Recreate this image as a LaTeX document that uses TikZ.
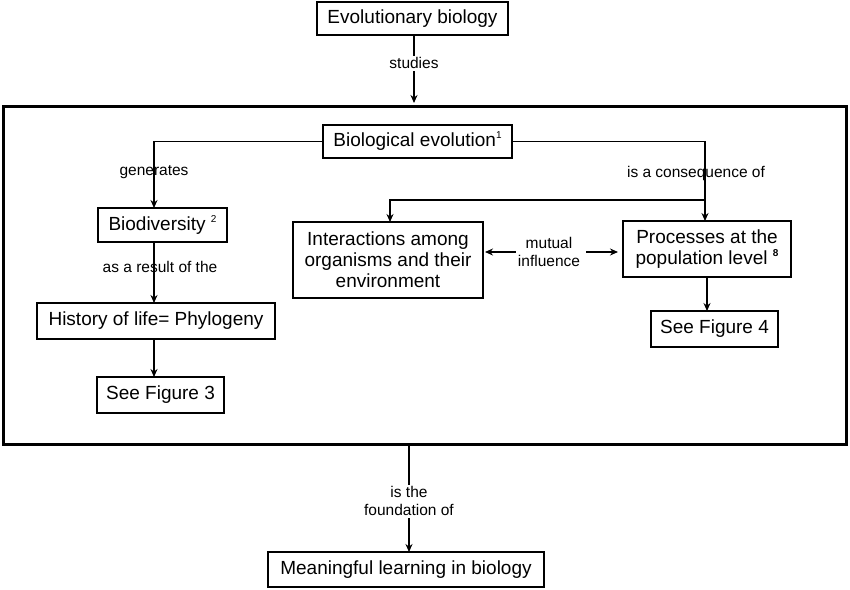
\documentclass[tikz,border=0pt]{standalone}
\usepackage{fontspec}
\setmainfont{Liberation Sans}
\usetikzlibrary{arrows.meta}
\newcommand{\supr}[1]{\raisebox{0.42em}{\fontsize{10}{10}\selectfont #1}}
\begin{document}
\begin{tikzpicture}[x=1pt,y=-1pt,
  box/.style={draw, line width=1.6pt, inner sep=0pt, outer sep=0pt,
    font=\fontsize{19}{21}\selectfont, align=center},
  lbl/.style={font=\fontsize{15.5}{18}\selectfont, inner sep=1pt, align=center},
  arr/.style={line width=1.2pt, -{Stealth[length=8pt,width=7pt]}},
  conn/.style={line width=1.2pt}]
\useasboundingbox (0,0) rectangle (850,589);
\fill[white] (0,0) rectangle (850,589);

% frame
\node[draw, line width=3pt, minimum width=843pt, minimum height=338pt,
  inner sep=0pt, outer sep=0pt] (frame) at (425,275) {};

% boxes
\node[box, minimum width=191pt, minimum height=33pt] (evo) at (412.5,18.5) {Evolutionary biology};
\node[box, minimum width=189pt, minimum height=33pt] (bio) at (417.5,141.5) {Biological evolution\supr{1}};
\node[box, minimum width=129pt, minimum height=34pt] (biodiv) at (162.5,225) {Biodiversity \supr{2}};
\node[box, minimum width=238pt, minimum height=36pt] (history) at (156,321) {History of life= Phylogeny};
\node[box, minimum width=127pt, minimum height=36pt] (seefig3) at (160.5,395) {See Figure 3};
\node[box, minimum width=190pt, minimum height=76pt] (inter) at (388,260)
  {Interactions among\\organisms and their\\environment};
\node[box, minimum width=168pt, minimum height=56pt] (proc) at (707,249)
  {Processes at the\\population level \supr{\textbf{8}}};
\node[box, minimum width=127pt, minimum height=36pt] (seefig4) at (714.5,329) {See Figure 4};
\node[box, minimum width=276pt, minimum height=35pt] (mean) at (406,569.5) {Meaningful learning in biology};

% top: studies
\draw[arr, shorten >=3pt] ([xshift=1.5pt]evo.south) -- ([xshift=1.5pt]evo.south |- frame.north)
  node[pos=0.4, lbl, fill=white, inner sep=2pt] (studies) {studies};

% left branch
\draw[arr] (bio.west) -| ([xshift=-8.5pt]biodiv.north);
\node[lbl] (gen) at (154,172) {generates};
\draw[arr] ([xshift=-8.5pt]biodiv.south) -- ([xshift=-8.5pt]biodiv.south |- history.north);
\node[lbl] (asres) at (160,267) {as a result of the};
\draw[arr] ([xshift=-2pt]history.south) -- ([xshift=-2pt]history.south |- seefig3.north);

% right branch
\draw[arr] (bio.east) -| ([xshift=-2pt]proc.north);
\node[lbl] (cons) at (696,173) {is a consequence of};
\coordinate (br) at (705,200);
\draw[arr] (br) -| ([xshift=2pt]inter.north);

% mutual influence
\node[lbl] (mut) at (549,252) {mutual\\influence};
\draw[arr, shorten <=1pt, shorten >=2pt] (mut.west) -- (inter.east |- mut.west);
\draw[arr, shorten <=5pt, shorten >=5pt] (mut.east) -- (proc.west |- mut.east);

\draw[arr] (proc.south) -- (proc.south |- seefig4.north);

% bottom
\draw[arr] ([xshift=3pt]mean.north |- frame.south) -- ([xshift=3pt]mean.north)
  node[pos=0.53, lbl, fill=white, inner sep=2pt] (found) {is the\\foundation of};
\end{tikzpicture}
\end{document}
